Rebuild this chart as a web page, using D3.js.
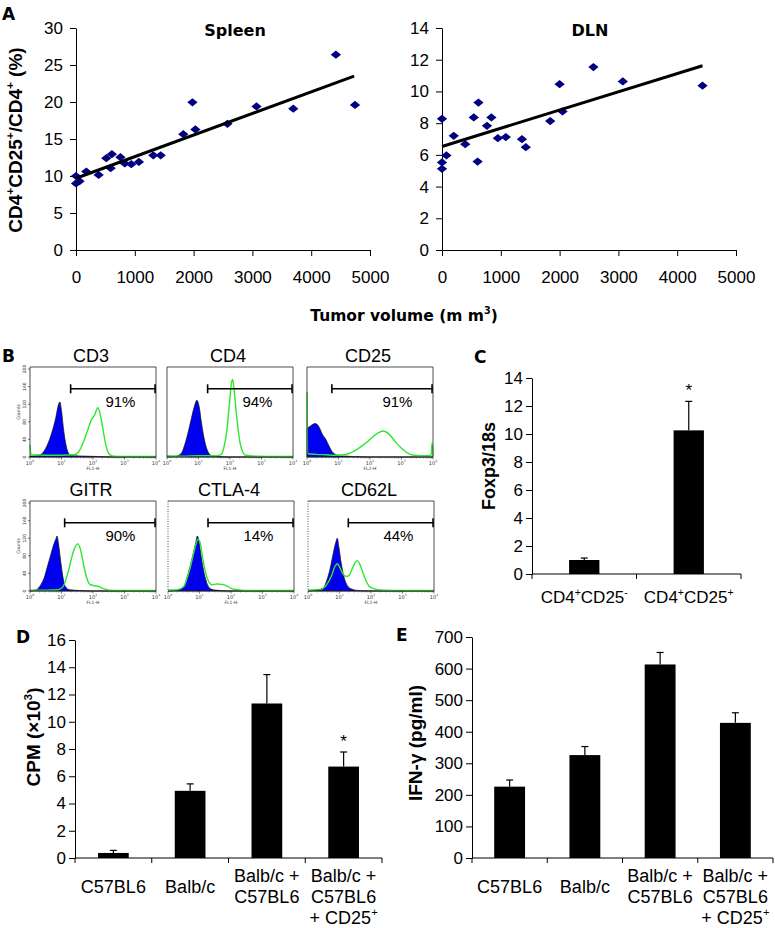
<!DOCTYPE html>
<html><head><meta charset="utf-8">
<script src="https://cdn.jsdelivr.net/npm/d3@7"></script>
<style>body{margin:0;background:#fff}svg{display:block}</style>
</head><body><script>
// ---------------- DATA ----------------
// Panel A
const volumeTicks = [0, 1000, 2000, 3000, 4000, 5000];
const spleenTicks = [0, 5, 10, 15, 20, 25, 30];
const dlnTicks = [0, 2, 4, 6, 8, 10, 12, 14];
const spleenVolume = [0, 0, 60, 175, 385, 515, 610, 590, 755, 830, 940, 1070, 1315, 1440, 1825, 1980, 2030, 2575, 3070, 3695, 4420, 4745];
const spleenPct    = [10.0, 9.0, 9.3, 10.6, 10.15, 12.4, 12.95, 11.05, 12.55, 11.7, 11.6, 11.9, 12.8, 12.8, 15.65, 19.95, 16.3, 17.05, 19.4, 19.1, 26.4, 19.6];
const spleenTrendX = [0, 4730];
const spleenTrendY = [9.7, 23.5];
const dlnVolume = [0, 0, 0, 75, 200, 395, 540, 605, 620, 765, 840, 950, 1085, 1360, 1425, 1840, 2000, 2050, 2575, 3075, 4430];
const dlnPct    = [8.27, 5.52, 5.12, 5.96, 7.2, 6.67, 8.36, 5.58, 9.3, 7.83, 8.36, 7.05, 7.12, 6.99, 6.48, 8.13, 10.46, 8.74, 11.54, 10.63, 10.36];
const dlnTrendX = [0, 4430];
const dlnTrendY = [6.53, 11.62];

// Panel B (log10 fluorescence, counts)
const markers = ["CD3", "CD4", "CD25", "GITR", "CTLA-4", "CD62L"];
const markerPct = ["91%", "94%", "91%", "90%", "14%", "44%"];
const gateStart = [1.29, 1.29, 0.79, 1.10, 1.27, 1.28];
const channels = ["FL1-H", "FL1-H", "FL2-H", "FL1-H", "FL1-H", "FL1-H"];
const countTicks = [0, 40, 80, 120, 160, 200];
const decadeTicks = [0, 1, 2, 3, 4];
const cd3Blue = [[0,2],[0.2,3],[0.35,6],[0.5,20],[0.62,40],[0.72,62],[0.82,90],[0.9,118],[0.95,125],[1.0,105],[1.07,60],[1.15,25],[1.25,6],[1.4,3],[1.7,2],[2.2,1],[2.6,0],[4,0]];
const cd3Green = [[0,28],[0.03,5],[0.5,4],[1.0,4],[1.4,5],[1.55,12],[1.7,35],[1.85,65],[1.95,85],[2.05,95],[2.15,112],[2.22,100],[2.3,70],[2.4,30],[2.5,8],[2.65,2],[3,1],[3.5,1],[4,1]];
const cd4Blue = [[0,0],[0.3,2],[0.45,8],[0.55,25],[0.65,50],[0.75,80],[0.85,110],[0.95,129],[1.02,115],[1.1,75],[1.2,35],[1.3,12],[1.42,3],[1.6,1],[2,0],[4,0]];
const cd4Green = [[0,3],[0.5,2],[1.0,3],[1.5,3],[1.7,5],[1.8,20],[1.9,60],[1.98,120],[2.05,170],[2.08,176],[2.12,160],[2.2,100],[2.3,40],[2.4,12],[2.5,4],[2.8,2],[3.5,1],[4,1]];
const cd25Blue = [[0,65],[0.1,70],[0.25,76],[0.35,72],[0.5,50],[0.6,40],[0.7,25],[0.8,12],[0.9,6],[1.0,3],[1.2,2],[1.5,1],[2,0],[4,0]];
const cd25Green = [[0,148],[0.02,8],[0.3,6],[0.6,5],[0.9,4],[1.2,5],[1.4,10],[1.6,18],[1.8,28],[2.0,40],[2.2,52],[2.42,59],[2.6,52],[2.8,35],[3.0,20],[3.2,9],[3.4,4],[3.6,3],[3.94,3],[3.97,32],[4,2]];
const gitrBlue = [[0,0],[0.2,3],[0.35,15],[0.45,30],[0.55,55],[0.65,80],[0.75,105],[0.82,118],[0.86,125],[0.9,110],[0.97,70],[1.05,30],[1.12,10],[1.25,3],[1.6,1],[2,0],[4,0]];
const gitrGreen = [[0,2],[0.5,2],[0.9,3],[1.05,10],[1.2,40],[1.32,75],[1.42,98],[1.52,107],[1.6,95],[1.7,60],[1.8,30],[1.9,15],[2.05,12],[2.2,10],[2.35,5],[2.5,2],[3,1],[4,1]];
const ctla4Blue = [[0,0],[0.3,2],[0.5,10],[0.6,30],[0.7,55],[0.8,85],[0.88,110],[0.93,125],[0.98,115],[1.05,80],[1.15,40],[1.25,15],[1.35,5],[1.5,2],[2,0],[4,0]];
const ctla4Green = [[0,2],[0.3,3],[0.5,10],[0.6,28],[0.7,52],[0.8,82],[0.88,105],[0.95,118],[1.02,110],[1.1,75],[1.2,40],[1.3,20],[1.4,14],[1.55,16],[1.7,15],[1.85,12],[2.0,6],[2.2,3],[2.6,1],[4,1]];
const cd62lBlue = [[0,0],[0.3,2],[0.5,8],[0.6,25],[0.7,50],[0.8,85],[0.88,110],[0.93,120],[0.98,100],[1.05,65],[1.15,30],[1.25,12],[1.4,4],[1.6,1],[2,0],[4,0]];
const cd62lGreen = [[0,2],[0.4,4],[0.6,15],[0.75,35],[0.85,55],[0.93,62],[1.0,55],[1.1,40],[1.2,33],[1.3,35],[1.4,50],[1.5,65],[1.57,69],[1.65,60],[1.75,40],[1.85,22],[1.95,10],[2.1,5],[2.4,2],[3,1],[4,1]];
const isotypeSeries = [cd3Blue, cd4Blue, cd25Blue, gitrBlue, ctla4Blue, cd62lBlue];
const stainSeries = [cd3Green, cd4Green, cd25Green, gitrGreen, ctla4Green, cd62lGreen];

// Panel C
const foxpCats = ["CD4^+CD25^-", "CD4^+CD25^+"];
const foxpValues = [1.0, 10.26];
const foxpErrors = [0.14, 2.07];
const foxpTicks = [0, 2, 4, 6, 8, 10, 12, 14];

// Panels D, E
const groupLabels = [["C57BL6"], ["Balb/c"], ["Balb/c +", "C57BL6"], ["Balb/c +", "C57BL6", "+ CD25^+"]];
const cpmValues = [0.37, 4.93, 11.34, 6.71];
const cpmErrors = [0.19, 0.51, 2.12, 1.07];
const cpmTicks = [0, 2, 4, 6, 8, 10, 12, 14, 16];
const ifnValues = [226, 326, 613, 428];
const ifnErrors = [21, 27, 38, 32];
const ifnTicks = [0, 100, 200, 300, 400, 500, 600, 700];

// ---------------- DRAW ----------------
const SANS = "'DejaVu Sans', sans-serif";
const ARIAL = "'Liberation Sans', Arial, sans-serif";
const svg = d3.select("body").append("svg").attr("width", 775).attr("height", 928);

function rich(t, str, fs) {
  let cur = 0;
  str.split(/(\^.)/).filter(s => s).forEach(p => {
    if (p[0] === '^' && p.length === 2) {
      const up = -fs * 0.42;
      t.append("tspan").attr("font-size", fs * 0.62).attr("dy", up - cur).text(p[1]); cur = up;
    } else {
      t.append("tspan").attr("dy", -cur).text(p); cur = 0;
    }
  });
  return t;
}
function label(x, y, str, o = {}) {
  const fs = o.fs || 16;
  const t = svg.append("text").attr("x", x).attr("y", y)
    .attr("font-family", o.family || ARIAL).attr("font-size", fs)
    .attr("font-weight", o.bold ? "bold" : "normal")
    .attr("text-anchor", o.anchor || "middle").attr("fill", "#000");
  if (o.rotate) t.attr("x", null).attr("y", null).attr("transform", `translate(${x},${y}) rotate(-90)`);
  return rich(t, str, fs);
}
function styleAxis(g, fs) {
  g.attr("font-family", ARIAL).attr("font-size", fs);
  g.selectAll("line,path").attr("stroke", "#000").attr("stroke-width", 1);
  g.selectAll("text").attr("fill", "#000");
}

// Panel labels
label(2, 20, "A", {bold: true, anchor: "start", fs: 17, family: SANS});
label(2, 362, "B", {bold: true, anchor: "start", fs: 17, family: SANS});
label(474, 363, "C", {bold: true, anchor: "start", fs: 17, family: SANS});
label(16, 643, "D", {bold: true, anchor: "start", fs: 17, family: SANS});
label(396, 641, "E", {bold: true, anchor: "start", fs: 17, family: SANS});

// ---- Panel A ----
function scatterPanel(o) {
  const x = d3.scaleLinear().domain([0, 5000]).range([o.x0, o.x1]);
  const y = d3.scaleLinear().domain([0, o.ticks[o.ticks.length - 1]]).range([250, 28]);
  styleAxis(svg.append("g").attr("transform", `translate(${o.x0},0)`)
    .call(d3.axisLeft(y).tickValues(o.ticks).tickSize(6).tickPadding(7).tickSizeOuter(0)), 17);
  styleAxis(svg.append("g").attr("transform", `translate(0,250)`)
    .call(d3.axisBottom(x).tickValues(volumeTicks).tickFormat(d3.format("d")).tickSize(6).tickPadding(15).tickSizeOuter(0)), 17);
  svg.append("g").selectAll("path").data(d3.zip(o.xs, o.ys)).join("path")
    .attr("d", d3.symbol().type(d3.symbolSquare).size(34))
    .attr("transform", d => `translate(${x(d[0])},${y(d[1])}) scale(1.25,1) rotate(45)`)
    .attr("fill", "#000080");
  svg.append("path").datum(d3.zip(o.tx, o.ty))
    .attr("d", d3.line().x(d => x(d[0])).y(d => y(d[1])))
    .attr("stroke", "#000").attr("stroke-width", 3).attr("fill", "none");
  label(o.titleX, 36, o.title, {bold: true, fs: 16, family: SANS});
}
scatterPanel({x0: 76, x1: 370, ticks: spleenTicks, xs: spleenVolume, ys: spleenPct, tx: spleenTrendX, ty: spleenTrendY, title: "Spleen", titleX: 235});
scatterPanel({x0: 442, x1: 736, ticks: dlnTicks, xs: dlnVolume, ys: dlnPct, tx: dlnTrendX, ty: dlnTrendY, title: "DLN", titleX: 590});
label(22, 140, "CD4^+CD25^+/CD4^+ (%)", {bold: true, fs: 19, rotate: true});
label(404, 321, "Tumor volume (m m^3)", {bold: true, fs: 15.5, family: SANS});

// ---- Panel B ----
const colX = [[30, 167, 307], [30, 168, 308]];
const rowY = [367, 501];
markers.forEach((m, i) => {
  const r = Math.floor(i / 3), c = i % 3;
  const x0 = colX[r][c], w = 126, y0 = rowY[r], h = 90;
  const x = d3.scaleLinear().domain([0, 4]).range([x0, x0 + w]);
  const y = d3.scaleLinear().domain([0, 200]).range([y0 + h, y0 + 2]);
  const g = svg.append("g");
  g.append("path").datum(isotypeSeries[i])
    .attr("d", d3.area().x(d => x(d[0])).y0(y(0)).y1(d => y(d[1])).curve(d3.curveMonotoneX))
    .attr("fill", "#0000f0").attr("stroke", "#111").attr("stroke-width", 0.7);
  g.append("path").datum(stainSeries[i])
    .attr("d", d3.line().x(d => x(d[0])).y(d => y(d[1])).curve(d3.curveMonotoneX))
    .attr("fill", "none").attr("stroke", "#2ee82e").attr("stroke-width", 1.4);
  // frame
  g.append("line").attr("x1", x0).attr("x2", x0 + w).attr("y1", y0).attr("y2", y0).attr("stroke", "#222").attr("stroke-width", 0.8);
  g.append("line").attr("x1", x0 + w).attr("x2", x0 + w).attr("y1", y0).attr("y2", y0 + h).attr("stroke", "#222").attr("stroke-width", 0.8);
  g.append("line").attr("x1", x0).attr("x2", x0).attr("y1", y0).attr("y2", y0 + h).attr("stroke", "#222").attr("stroke-width", 0.8)
    .attr("stroke-dasharray", i >= 4 ? "1,1.5" : null);
  g.append("line").attr("x1", x0).attr("x2", x0 + w).attr("y1", y0 + h).attr("y2", y0 + h).attr("stroke", "#222").attr("stroke-width", 0.8);
  // log ticks
  decadeTicks.forEach(dk => {
    g.append("line").attr("x1", x(dk)).attr("x2", x(dk)).attr("y1", y0 + h).attr("y2", y0 + h + 2.5).attr("stroke", "#222").attr("stroke-width", 0.6);
    const t = g.append("text").attr("x", x(dk)).attr("y", y0 + h + 7.5).attr("font-family", SANS).attr("font-size", 5).attr("text-anchor", "middle").attr("fill", "#333");
    rich(t, "10^" + dk, 5);
    if (dk < 4) d3.range(2, 10).forEach(k => {
      const lx = x(dk + Math.log10(k));
      g.append("line").attr("x1", lx).attr("x2", lx).attr("y1", y0 + h).attr("y2", y0 + h + 1.5).attr("stroke", "#444").attr("stroke-width", 0.5);
    });
  });
  g.append("text").attr("x", x0 + w / 2).attr("y", y0 + h + 13).attr("font-family", SANS).attr("font-size", 4.5)
    .attr("text-anchor", "middle").attr("fill", "#333").text(channels[i]);
  if (c === 0) {
    countTicks.forEach(ct => {
      g.append("line").attr("x1", x0 - 2).attr("x2", x0).attr("y1", y(ct)).attr("y2", y(ct)).attr("stroke", "#222").attr("stroke-width", 0.6);
      g.append("text").attr("transform", `translate(${x0 - 4},${y(ct)}) rotate(-90)`).attr("font-family", SANS).attr("font-size", 4.5)
        .attr("text-anchor", "middle").attr("fill", "#333").text(ct);
    });
    g.append("text").attr("transform", `translate(${x0 - 10},${y0 + h / 2}) rotate(-90)`).attr("font-family", SANS).attr("font-size", 4.5)
      .attr("text-anchor", "middle").attr("fill", "#333").text("Counts");
  }
  // gate
  const gy = y(155), gx1 = x(gateStart[i]), gx2 = x(3.97);
  g.append("line").attr("x1", gx1).attr("x2", gx2).attr("y1", gy).attr("y2", gy).attr("stroke", "#000").attr("stroke-width", 1.6);
  [gx1, gx2].forEach(gx => g.append("line").attr("x1", gx).attr("x2", gx).attr("y1", gy - 4.5).attr("y2", gy + 4.5).attr("stroke", "#000").attr("stroke-width", 1.6));
  label(x(2.87), y0 + 40, markerPct[i], {fs: 15});
  label(x0 + w / 2 - 2, y0 - 5, m, {fs: 18});
});

// ---- Bar panels ----
function barPanel(o) {
  const xb = d3.scaleBand().domain(d3.range(o.values.length)).range([o.x0, o.x1]);
  const y = d3.scaleLinear().domain([0, o.ticks[o.ticks.length - 1]]).range([o.yb, o.yt]);
  styleAxis(svg.append("g").attr("transform", `translate(${o.x0},0)`)
    .call(d3.axisLeft(y).tickValues(o.ticks).tickSize(6).tickPadding(3).tickSizeOuter(0)), 17);
  const g = svg.append("g");
  g.append("line").attr("x1", o.x0).attr("x2", o.x1).attr("y1", y(0)).attr("y2", y(0)).attr("stroke", "#000");
  d3.range(o.values.length + 1).forEach(k => {
    const tx = k < o.values.length ? xb(k) : o.x1;
    g.append("line").attr("x1", tx).attr("x2", tx).attr("y1", y(0)).attr("y2", y(0) + 5).attr("stroke", "#000");
  });
  const bw = xb.bandwidth() * o.barFrac;
  o.values.forEach((v, k) => {
    const cx = xb(k) + xb.bandwidth() / 2;
    const top = y(v + o.errors[k]);
    g.append("line").attr("x1", cx).attr("x2", cx).attr("y1", y(v)).attr("y2", top).attr("stroke", "#000").attr("stroke-width", 1.2);
    g.append("line").attr("x1", cx - 3.5).attr("x2", cx + 3.5).attr("y1", top).attr("y2", top).attr("stroke", "#000").attr("stroke-width", 1.2);
    g.append("rect").attr("x", cx - bw / 2).attr("y", y(v)).attr("width", bw).attr("height", y(0) - y(v)).attr("fill", "#000");
    if (o.star && o.star[k]) label(cx, top - 16 + 11, "*", {fs: 17});
    const lines = o.labels[k];
    lines.forEach((ln, j) => {
      const by = lines.length === 1 ? o.singleY : o.multiY + j * 21;
      label(cx, by, ln, {fs: o.catFs});
    });
  });
}
barPanel({x0: 532, x1: 741, yb: 574, yt: 378, ticks: foxpTicks, values: foxpValues, errors: foxpErrors,
  barFrac: 0.29, labels: foxpCats.map(c => [c]), singleY: 603, multiY: 603, catFs: 17, star: [false, true]});
label(495, 466, "Foxp3/18s", {bold: true, fs: 18, rotate: true});

barPanel({x0: 75, x1: 382, yb: 858, yt: 640, ticks: cpmTicks, values: cpmValues, errors: cpmErrors,
  barFrac: 0.4, labels: groupLabels, singleY: 893, multiY: 882, catFs: 18, star: [false, false, false, true]});
label(40, 737, "CPM (×10^3)", {bold: true, fs: 19, rotate: true});

barPanel({x0: 472, x1: 773, yb: 858, yt: 637, ticks: ifnTicks, values: ifnValues, errors: ifnErrors,
  barFrac: 0.41, labels: groupLabels, singleY: 893, multiY: 882, catFs: 18});
label(422, 743, "IFN-γ (pg/ml)", {bold: true, fs: 19, rotate: true});
</script></body></html>
